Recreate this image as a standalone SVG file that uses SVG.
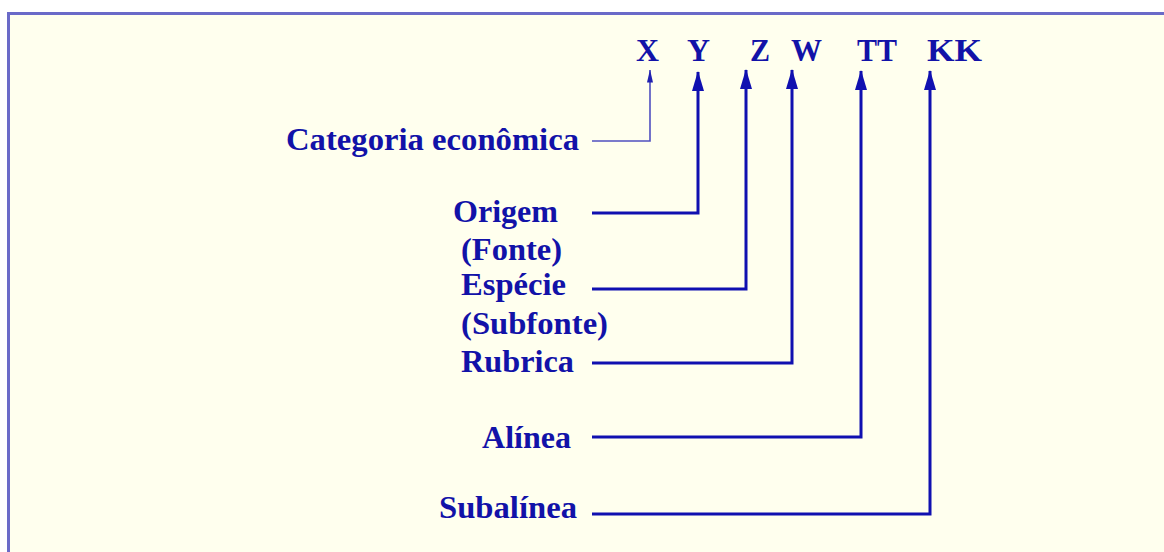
<svg xmlns="http://www.w3.org/2000/svg" width="1164" height="552" viewBox="0 0 1164 552">
<defs>
<style>
.t{font-family:"Liberation Serif","Times New Roman",serif;font-weight:bold;font-size:32px;fill:#1212A8}
.c{fill:none;stroke:#1010B0;stroke-width:3}
.thin{fill:none;stroke:#5050C0;stroke-width:1.6}
</style>
<marker id="ah" viewBox="0 0 20 12" refX="19" refY="6" markerWidth="20" markerHeight="12" markerUnits="userSpaceOnUse" orient="auto">
<path d="M0,0 L20,6 L0,12 Z" fill="#1010B0"/>
</marker>
<marker id="ahs" viewBox="0 0 13 6" refX="12.5" refY="3" markerWidth="13" markerHeight="6" markerUnits="userSpaceOnUse" orient="auto">
<path d="M0,0 L13,3 L0,6 Z" fill="#2020B0"/>
</marker>
</defs>
<rect x="0" y="0" width="1164" height="552" fill="#FFFFFF"/>
<rect x="8" y="13" width="1156" height="539" fill="#FFFFEE"/>
<path d="M8.5,552 V13.5 H1164" fill="none" stroke="#6A6AC8" stroke-width="3"/>

<g id="codes">
<text class="t" x="636" y="61" textLength="23" lengthAdjust="spacingAndGlyphs">X</text>
<text class="t" x="687" y="61" textLength="23" lengthAdjust="spacingAndGlyphs">Y</text>
<text class="t" x="750" y="61" textLength="20" lengthAdjust="spacingAndGlyphs">Z</text>
<text class="t" x="791" y="61" textLength="31" lengthAdjust="spacingAndGlyphs">W</text>
<text class="t" x="857" y="61" textLength="40" lengthAdjust="spacingAndGlyphs">TT</text>
<text class="t" x="927" y="61" textLength="55" lengthAdjust="spacingAndGlyphs">KK</text>
</g>

<g id="n-categoria"><text class="t" x="286" y="150" textLength="293" lengthAdjust="spacingAndGlyphs">Categoria econômica</text></g>
<g id="n-origem">
<text class="t" x="453" y="222" textLength="105" lengthAdjust="spacingAndGlyphs">Origem</text>
<text class="t" x="461" y="260" textLength="101" lengthAdjust="spacingAndGlyphs">(Fonte)</text>
</g>
<g id="n-especie">
<text class="t" x="461" y="295" textLength="105" lengthAdjust="spacingAndGlyphs">Espécie</text>
<text class="t" x="461" y="334" textLength="147" lengthAdjust="spacingAndGlyphs">(Subfonte)</text>
</g>
<g id="n-rubrica"><text class="t" x="461" y="372" textLength="113" lengthAdjust="spacingAndGlyphs">Rubrica</text></g>
<g id="n-alinea"><text class="t" x="482" y="448" textLength="89" lengthAdjust="spacingAndGlyphs">Alínea</text></g>
<g id="n-subalinea"><text class="t" x="439" y="518" textLength="138" lengthAdjust="spacingAndGlyphs">Subalínea</text></g>

<g id="connectors">
<path class="thin" d="M592,141 H650 V70" marker-end="url(#ahs)"/>
<path class="c" d="M592,213 H698 V72" marker-end="url(#ah)"/>
<path class="c" d="M592,289 H746 V70" marker-end="url(#ah)"/>
<path class="c" d="M592,363 H792 V70" marker-end="url(#ah)"/>
<path class="c" d="M592,437 H861 V71" marker-end="url(#ah)"/>
<path class="c" d="M592,514 H930 V71" marker-end="url(#ah)"/>
</g>
</svg>
